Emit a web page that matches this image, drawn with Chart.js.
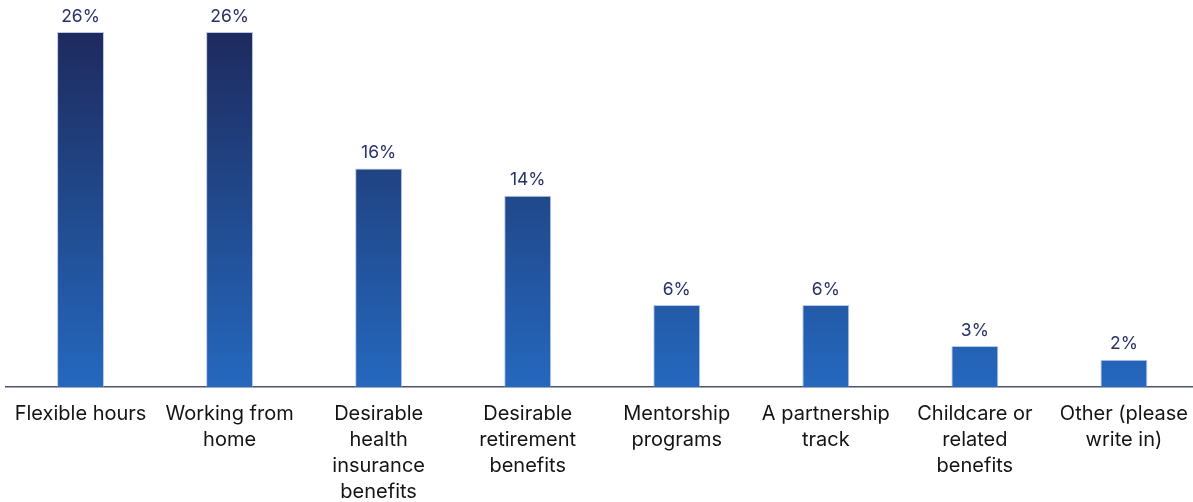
<!DOCTYPE html>
<html>
<head>
<meta charset="utf-8">
<script src="https://cdn.jsdelivr.net/npm/chart.js@4"></script>
<style>
  html, body { margin: 0; padding: 0; background: #fff; overflow: hidden; }
  /* the plot runs a few pixels past the right edge of the window */
  #wrap { width: 1202px; height: 502px; }
</style>
</head>
<body>
<div id="wrap"><canvas id="benefits"></canvas></div>
<script>
const categories = [
  'Flexible hours',
  ['Working from', 'home'],
  ['Desirable', 'health', 'insurance', 'benefits'],
  ['Desirable', 'retirement', 'benefits'],
  ['Mentorship', 'programs'],
  ['A partnership', 'track'],
  ['Childcare or', 'related', 'benefits'],
  ['Other (please', 'write in)']
];
const shares = [26, 26, 16, 14, 6, 6, 3, 2];

const FONT = 'Inter, "Noto Sans", sans-serif';

// bar fill runs from navy at the top of the plot to mid blue at the baseline
function barGradient(ctx) {
  const chart = ctx.chart;
  const area = chart.chartArea;
  if (!area) return '#2466bc';
  const g = chart.ctx.createLinearGradient(0, area.top, 0, area.bottom);
  g.addColorStop(0, '#1e2a5e');
  g.addColorStop(0.5, '#214a8e');
  g.addColorStop(1, '#2568be');
  return g;
}

// percentage labels above each bar
const valueLabels = {
  id: 'valueLabels',
  afterDatasetsDraw(chart) {
    const c = chart.ctx;
    const meta = chart.getDatasetMeta(0);
    c.save();
    c.font = '17.5px ' + FONT;
    c.fillStyle = '#28336a';
    c.textAlign = 'center';
    c.textBaseline = 'bottom';
    meta.data.forEach((bar, i) => {
      c.fillText(shares[i] + '%', bar.x, bar.y - 7);
    });
    c.restore();
  }
};

new Chart(document.getElementById('benefits'), {
  type: 'bar',
  data: {
    labels: categories,
    datasets: [{
      data: shares,
      backgroundColor: barGradient,
      borderColor: 'rgba(140, 165, 215, 0.6)',
      borderWidth: { top: 1, left: 1, right: 1, bottom: 0 },
      categoryPercentage: 1,
      barPercentage: 0.315
    }]
  },
  options: {
    responsive: true,
    maintainAspectRatio: false,
    animation: false,
    layout: { padding: { top: 32, left: 6, right: 0, bottom: 0 } },
    plugins: {
      legend: { display: false },
      tooltip: { enabled: false }
    },
    scales: {
      x: {
        grid: { display: false, drawTicks: false },
        border: { display: true, color: '#4d5369', width: 1.5 },
        ticks: {
          color: '#141414',
          font: { family: FONT, size: 20, lineHeight: 1.3 },
          padding: 14,
          maxRotation: 0,
          autoSkip: false
        },
        // labels are allowed to run to the bottom edge
        afterFit(axis) { axis.height = 115; }
      },
      y: {
        display: false,
        min: 0,
        max: 26
      }
    }
  },
  plugins: [valueLabels]
});
</script>
</body>
</html>
